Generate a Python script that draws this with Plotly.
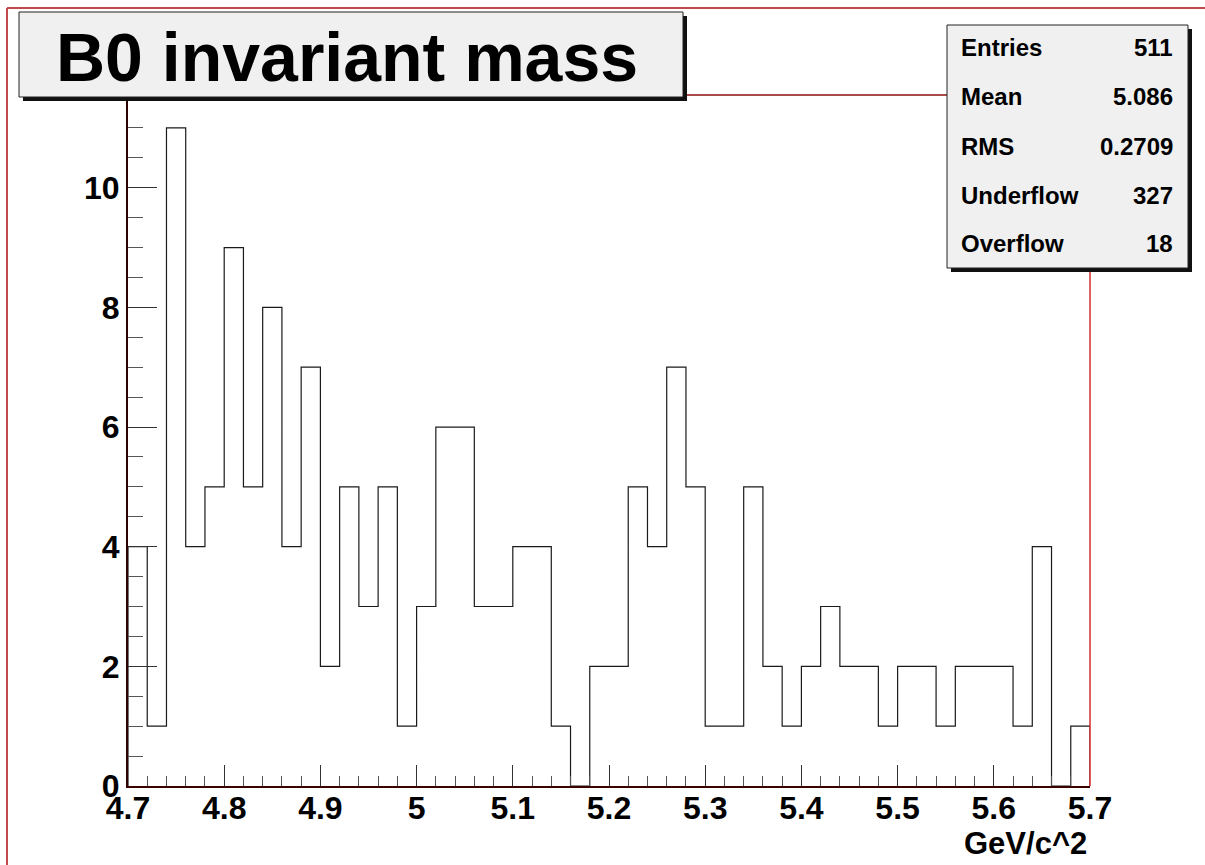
import numpy as np
import plotly.graph_objects as go

# ---- data ----
x_min = 4.7
x_max = 5.7
bin_width = 0.02
counts = [4, 1, 11, 4, 5, 9, 5, 8, 4, 7,
          2, 5, 3, 5, 1, 3, 6, 6, 3, 3,
          4, 4, 1, 0, 2, 2, 5, 4, 7, 5,
          1, 1, 5, 2, 1, 2, 3, 2, 2, 1,
          2, 2, 1, 2, 2, 2, 1, 4, 0, 1]
title_text = "B0 invariant mass"
x_title = "GeV/c^2"
stat_labels = ["Entries", "Mean", "RMS", "Underflow", "Overflow"]
stat_values = ["511", "5.086", "0.2709", "327", "18"]

# ---- layout geometry (pixels) ----
W, H = 1205, 865
L, R, T, B = 128, 1090, 95, 786
PW, PH = R - L, B - T

def px(x):
    return (x - L) / PW

def py(y):
    return (B - y) / PH

edges = x_min + bin_width * np.arange(len(counts) + 1)
# step outline built from bin edges and counts
sx, sy = [edges[0]], [0]
for i, c in enumerate(counts):
    sx += [edges[i], edges[i + 1]]
    sy += [c, c]
sx.append(edges[-1]); sy.append(0)

FONT = "Liberation Sans, Arial, Helvetica, sans-serif"

fig = go.Figure()
fig.add_trace(go.Scatter(x=sx, y=sy, mode="lines",
                         line=dict(color="#1a1a1a", width=1.2),
                         hoverinfo="skip", showlegend=False))

axis_common = dict(
    showgrid=False, zeroline=False, showline=True, linewidth=2,
    ticks="inside", tickcolor="#333333", tickwidth=1,
    tickfont=dict(family=FONT, size=32, color="black", weight="bold"),
)

fig.update_xaxes(range=[x_min, x_max], dtick=0.1, tick0=4.7, ticklen=21,
                 linecolor="#3a0000", ticklabelstandoff=-7,
                 minor=dict(ticks="inside", dtick=0.02, ticklen=10,
                            tickcolor="#555555", tickwidth=1),
                 **axis_common)
fig.update_yaxes(range=[0, 11.55], dtick=2, tick0=0, ticklen=29,
                 linecolor="#2a0000",
                 minor=dict(ticks="inside", dtick=0.5, ticklen=15,
                            tickcolor="#555555", tickwidth=1),
                 **axis_common)

shapes = []
# canvas border (top & left)
shapes.append(dict(type="line", xref="paper", yref="paper",
                   x0=px(7), x1=px(W + 5), y0=py(8), y1=py(8),
                   line=dict(color="#c24a4a", width=2)))
shapes.append(dict(type="line", xref="paper", yref="paper",
                   x0=px(7), x1=px(7), y0=py(8), y1=py(H + 5),
                   line=dict(color="#c24a4a", width=2)))
# frame top & right
shapes.append(dict(type="line", xref="paper", yref="paper",
                   x0=0, x1=1, y0=1, y1=1, line=dict(color="#8b1010", width=1.5)))
shapes.append(dict(type="line", xref="paper", yref="paper",
                   x0=1, x1=1, y0=0, y1=1, line=dict(color="#d03030", width=1.5)))
# title box shadow + box
shapes.append(dict(type="rect", xref="paper", yref="paper",
                   x0=px(23), x1=px(687), y0=py(101), y1=py(16),
                   fillcolor="#111111", line=dict(width=0), layer="above"))
shapes.append(dict(type="rect", xref="paper", yref="paper",
                   x0=px(19), x1=px(683), y0=py(97), y1=py(12),
                   fillcolor="#f0f0f0", line=dict(color="#222222", width=1), layer="above"))
# stats box shadow + box
shapes.append(dict(type="rect", xref="paper", yref="paper",
                   x0=px(951), x1=px(1192), y0=py(272), y1=py(29),
                   fillcolor="#111111", line=dict(width=0), layer="above"))
shapes.append(dict(type="rect", xref="paper", yref="paper",
                   x0=px(947), x1=px(1188), y0=py(268), y1=py(25),
                   fillcolor="#f0f0f0", line=dict(color="#222222", width=1), layer="above"))

annotations = []
annotations.append(dict(text=title_text, xref="paper", yref="paper",
                        x=px(347), y=py(57), xanchor="center", yanchor="middle",
                        showarrow=False,
                        font=dict(family=FONT, size=68, color="black", weight="bold")))
row_y = [48, 97, 146, 195, 243]
for lab, val, yy in zip(stat_labels, stat_values, row_y):
    annotations.append(dict(text=lab, xref="paper", yref="paper",
                            x=px(959), y=py(yy), xanchor="left", yanchor="middle",
                            showarrow=False,
                            font=dict(family=FONT, size=24, color="black", weight="bold")))
    annotations.append(dict(text=val, xref="paper", yref="paper",
                            x=px(1175), y=py(yy), xanchor="right", yanchor="middle",
                            showarrow=False,
                            font=dict(family=FONT, size=24, color="black", weight="bold")))
annotations.append(dict(text=x_title, xref="paper", yref="paper",
                        x=px(1089), y=py(843), xanchor="right", yanchor="middle",
                        showarrow=False,
                        font=dict(family=FONT, size=31, color="black", weight="bold")))

fig.update_layout(
    width=W, height=H, autosize=False,
    margin=dict(l=L, r=W - R, t=T, b=H - B, pad=0),
    paper_bgcolor="white", plot_bgcolor="white",
    shapes=shapes, annotations=annotations, showlegend=False,
)

fig.write_html("out.html", config={"displayModeBar": False})
